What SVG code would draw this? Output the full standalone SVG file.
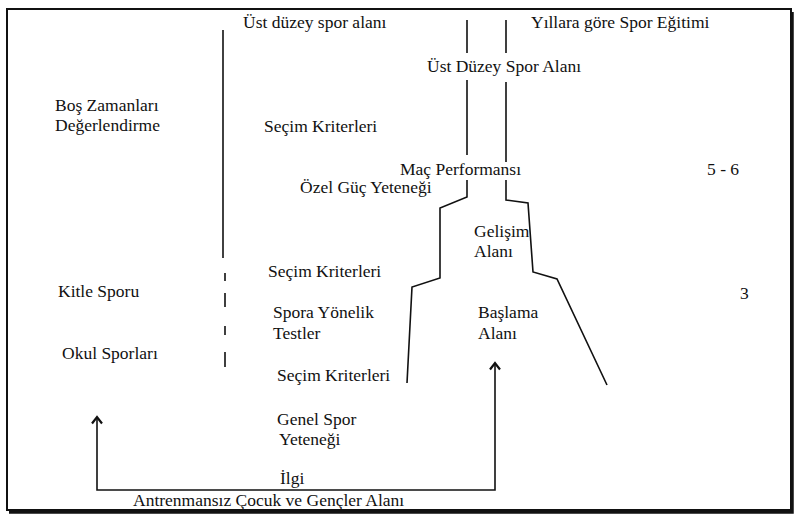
<svg xmlns="http://www.w3.org/2000/svg" width="802" height="517" viewBox="0 0 802 517">
<defs>
<style>
text{font-family:"Liberation Serif","Times New Roman",Times,"DejaVu Serif",serif;font-size:17.5px;fill:#111}
.ln{fill:none;stroke:#111;stroke-width:1.6;stroke-linejoin:miter}
.frame{fill:none;stroke:#111;stroke-width:2}
</style>
<marker id="ah" viewBox="0 0 12 12" refX="10" refY="6" markerWidth="12" markerHeight="12" markerUnits="userSpaceOnUse" orient="auto-start-reverse">
<path d="M3.5 1 L10 6 L3.5 11" fill="none" stroke="#111" stroke-width="2.2"/>
</marker>
</defs>
<rect width="802" height="517" fill="#fff"/>
<g id="frame">
<rect class="frame" x="7" y="9" width="784" height="501"/>
<path d="M792 12 V512 H9" fill="none" stroke="#111" stroke-width="3.5"/>
</g>
<g id="connectors">
<path class="ln" d="M223 30 V258"/>
<path class="ln" d="M225 273 V281 M225 293 V307 M225 326 V335 M225 352 V367"/>
<path class="ln" d="M467 20 V53 M467 80 V155"/>
<path class="ln" d="M506 20 V53 M506 82 V162"/>
<path class="ln" d="M467 180 V197 L440 208 V278 L412 287 L407 383"/>
<path class="ln" d="M506 180 V200 L528 203 L533 272 L557 279 L607 385"/>
<path class="ln" d="M97 417 V490 H495 V363" marker-start="url(#ah)" marker-end="url(#ah)"/>
</g>
<g id="n-ust-duzey-spor-alani"><text x="243" y="28">Üst düzey spor alanı</text></g>
<g id="n-yillara-gore"><text x="531" y="28">Yıllara göre Spor Eğitimi</text></g>
<g id="n-ust-duzey-alani"><text x="427" y="72">Üst Düzey Spor Alanı</text></g>
<g id="n-bos-zamanlari"><text x="55" y="111">Boş Zamanları</text><text x="55" y="131">Değerlendirme</text></g>
<g id="n-secim-1"><text x="264" y="132">Seçim Kriterleri</text></g>
<g id="n-mac-performansi"><text x="400" y="175">Maç Performansı</text></g>
<g id="n-ozel-guc"><text x="300" y="193">Özel Güç Yeteneği</text></g>
<g id="n-5-6"><text x="707" y="175">5 - 6</text></g>
<g id="n-gelisim"><text x="474" y="237">Gelişim</text><text x="474" y="257">Alanı</text></g>
<g id="n-secim-2"><text x="268" y="277">Seçim Kriterleri</text></g>
<g id="n-kitle-sporu"><text x="58" y="297">Kitle Sporu</text></g>
<g id="n-3"><text x="740" y="299">3</text></g>
<g id="n-spora-yonelik"><text x="273" y="318">Spora Yönelik</text><text x="273" y="339">Testler</text></g>
<g id="n-baslama"><text x="478" y="318">Başlama</text><text x="478" y="339">Alanı</text></g>
<g id="n-okul-sporlari"><text x="62" y="359">Okul Sporları</text></g>
<g id="n-secim-3"><text x="277" y="381">Seçim Kriterleri</text></g>
<g id="n-genel-spor"><text x="277" y="425">Genel Spor</text><text x="279" y="445">Yeteneği</text></g>
<g id="n-ilgi"><text x="280" y="484">İlgi</text></g>
<g id="n-antrenmansiz"><text x="133" y="506">Antrenmansız Çocuk ve Gençler Alanı</text></g>
</svg>
